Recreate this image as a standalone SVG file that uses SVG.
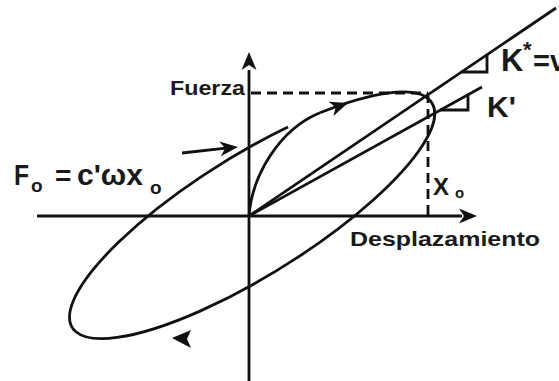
<svg xmlns="http://www.w3.org/2000/svg" width="559" height="381" viewBox="0 0 559 381">
<style>
.l{fill:none;stroke:#111;stroke-width:2.8}
.d{stroke-dasharray:10 6}
.h{fill:#111;stroke:none}
.t{font-family:"Liberation Sans",Arial,sans-serif;font-weight:bold;fill:#1a1a1a}
</style>
<defs>
<path id="ah" d="M0,0 L-18,-7.5 L-13,0 L-18,7.5 Z"/>
</defs>
<rect width="559" height="381" fill="#fff"/>
<g id="axes">
<line class="l" x1="249" y1="381" x2="249" y2="70"/>
<use href="#ah" class="h" transform="translate(249,52) rotate(-90)"/>
<line class="l" x1="37" y1="216" x2="462" y2="216"/>
<use href="#ah" class="h" transform="translate(477,216)"/>
</g>
<g id="dashed">
<line class="l d" x1="251" y1="93" x2="428" y2="93"/>
<line class="l d" x1="428" y1="93" x2="428" y2="216"/>
</g>
<g id="loop">
<path class="l" d="M288,127 A212,60 -32 1 0 320,112.8"/>
<path class="l" d="M249,216 C252,175 280,129 320,112.8"/>
<use href="#ah" class="h" transform="translate(348,103) rotate(-19)"/>
<path class="h" d="M172,338 L191,330 L187,339 L191,348 Z"/>
</g>
<g id="stiffness">
<line class="l" x1="249" y1="216" x2="556" y2="8"/>
<line class="l" x1="249" y1="216" x2="482" y2="87"/>
<polyline class="l" points="461,72 487,72 487,54"/>
<polyline class="l" points="440,110 468,110 468,94"/>
</g>
<g id="pointer">
<line class="l" x1="182" y1="153" x2="226" y2="148.2"/>
<use href="#ah" class="h" transform="translate(238,147) rotate(-6)"/>
</g>
<g id="labels">
<text class="t" x="170" y="95" font-size="20" textLength="75" lengthAdjust="spacingAndGlyphs">Fuerza</text>
<text class="t" x="350" y="246" font-size="21" textLength="190" lengthAdjust="spacingAndGlyphs">Desplazamiento</text>
<text class="t" font-size="24"><tspan x="433" y="195">X</tspan><tspan x="455" y="198" font-size="15">o</tspan></text>
<text class="t" font-size="29"><tspan x="14" y="185" textLength="15" lengthAdjust="spacingAndGlyphs">F</tspan><tspan x="31" y="192" font-size="19">o</tspan><tspan x="55" y="185" font-size="28">=</tspan><tspan x="77" y="185" textLength="66" lengthAdjust="spacingAndGlyphs">c'ωx</tspan><tspan x="150" y="194" font-size="19">o</tspan></text>
<text class="t" x="487" y="117" font-size="30">K'</text>
<text class="t" font-size="31"><tspan x="501" y="71">K</tspan><tspan x="523" y="57" font-size="22">*</tspan><tspan x="533" y="71" font-size="29">=v</tspan></text>
</g>
</svg>
